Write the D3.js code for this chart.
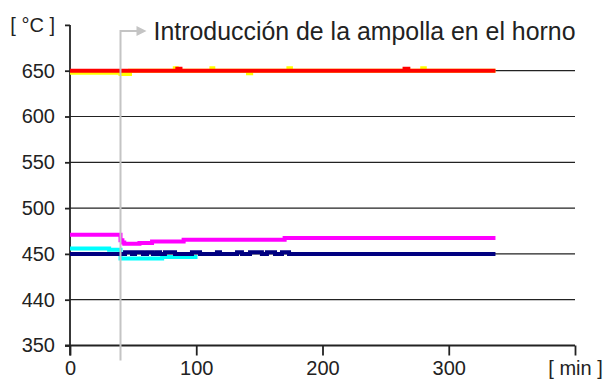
<!DOCTYPE html>
<html>
<head>
<meta charset="utf-8">
<script src="https://cdn.jsdelivr.net/npm/d3@7"></script>
<style>
  body { margin: 0; background: #fff; }
  text { font-family: "Liberation Sans", Arial, sans-serif; fill: #222; }
</style>
</head>
<body>
<div class="canvas"></div>
<script>
// axis ticks (the y axis is not linear, every label gets the same spacing)
const yTicks = [350, 440, 450, 500, 550, 600, 650, 700];
const xTicks = [0, 100, 200, 300, 400];

// series (time in min, temperature in °C), drawn as steps
const redTime = [0, 85, 87.5, 265, 268, 337];
const redTemp = [650, 652, 650, 652, 650, 650];

const yellowTime = [0, 40, 47.5, 83, 84.5, 112, 113.5, 141, 143.5, 173, 175, 279, 281, 337];
const yellowTemp = [647.8, 646.4, 650, 652.6, 650, 652.6, 650, 647.2, 650, 652.6, 650, 652.6, 650, 650];

const magentaTime = [0, 40, 41.5, 43, 55, 65, 90, 170, 337];
const magentaTemp = [471, 465, 462.5, 461, 461.8, 463.6, 465.4, 467.3, 467.3];

const cyanTime = [0, 31, 40, 73, 101];
const cyanTemp = [456, 454.4, 449.0, 449.3, 449.3];

const navyTime = [0, 43.6, 49.1, 51.5, 57.8, 61, 65.7, 68.9, 71.3, 75.2, 83.2, 96.6, 103,
                  116.4, 118.8, 132.3, 136.2, 142.6, 152, 156, 162.4, 167.9, 173.5, 337];
const navyTemp = [450, 451.7, 450, 451.7, 450, 451.7, 450, 451.7, 450, 451.7, 450, 451.7, 450,
                  451.7, 450, 451.7, 450, 451.7, 450, 451.7, 450, 451.7, 450, 450];

const introTime = 40;
const introText = 'Introducción de la ampolla en el horno';

const dims = {width: 606, height: 383};
const left = 70, right = 575, bottom = 345.5, step = 45.8;

const svg = d3.select('.canvas')
    .append('svg')
    .attr('width', dims.width)
    .attr('height', dims.height);

const x = d3.scaleLinear().domain([0, 400]).range([left, right]);
// polylinear scale: each tick value sits one step above the previous one
const y = d3.scaleLinear()
    .domain(yTicks)
    .range(yTicks.map((d, i) => bottom - i * step));

// grid lines
svg.append('g')
    .selectAll('line')
    .data(yTicks.filter(d => d > 350 && d < 700))
    .enter().append('line')
    .attr('x1', x(0)).attr('x2', x(400))
    .attr('y1', d => y(d)).attr('y2', d => y(d))
    .attr('stroke', '#222')
    .attr('stroke-width', 1.2);

// axes
const yAxis = d3.axisLeft(y)
    .tickValues(yTicks)
    .tickSize(5)
    .tickFormat(d => d === 700 ? '[ °C ]' : d);

const xAxis = d3.axisBottom(x)
    .tickValues(xTicks)
    .tickSize(10)
    .tickFormat(d => d === 400 ? '[ min ]' : d);

const gx = svg.append('g')
    .attr('transform', `translate(0,${bottom})`)
    .call(xAxis);
gx.select('.domain').attr('d', `M${left - 5},0H${right}`);

const gy = svg.append('g')
    .attr('transform', `translate(${left},0)`)
    .call(yAxis);
gy.select('.domain').attr('d', `M0,${y(700)}V${bottom + 10}`);

[gx, gy].forEach(g => {
    g.selectAll('.domain, .tick line')
        .attr('stroke', '#222')
        .attr('stroke-width', 1.8);
    g.selectAll('text')
        .attr('fill', '#222')
        .style('font-size', '20px')
        .style('font-family', '"Liberation Sans", Arial, sans-serif');
});
gy.selectAll('.tick text').attr('x', -15);
gx.selectAll('.tick text').attr('y', 15);

// data lines
const line = d3.line()
    .x(d => x(d[0]))
    .y(d => y(d[1]))
    .curve(d3.curveStepAfter);

const series = [
    {time: yellowTime, temp: yellowTemp, colour: '#ffff00'},
    {time: redTime, temp: redTemp, colour: '#ff0000'},
    {time: cyanTime, temp: cyanTemp, colour: '#00ffff'},
    {time: navyTime, temp: navyTemp, colour: '#000080'},
    {time: magentaTime, temp: magentaTemp, colour: '#ff00ff'}
];

svg.append('g')
    .selectAll('path')
    .data(series)
    .enter().append('path')
    .attr('fill', 'none')
    .attr('stroke', d => d.colour)
    .attr('stroke-width', 4)
    .attr('d', d => line(d.time.map((t, i) => [t, d.temp[i]])));

// annotation arrow
const ax = x(introTime);
const arrowY = 31;
svg.append('path')
    .attr('d', `M${ax},${bottom + 15}V${arrowY}H${ax + 18}`)
    .attr('fill', 'none')
    .attr('stroke', '#c4c4c4')
    .attr('stroke-width', 2);
svg.append('path')
    .attr('d', `M${ax + 16},${arrowY - 5}L${ax + 26},${arrowY}L${ax + 16},${arrowY + 5}Z`)
    .attr('fill', '#c4c4c4');

svg.append('text')
    .attr('x', ax + 33)
    .attr('y', arrowY + 9)
    .style('font-size', '24.9px')
    .text(introText);
</script>
</body>
</html>
